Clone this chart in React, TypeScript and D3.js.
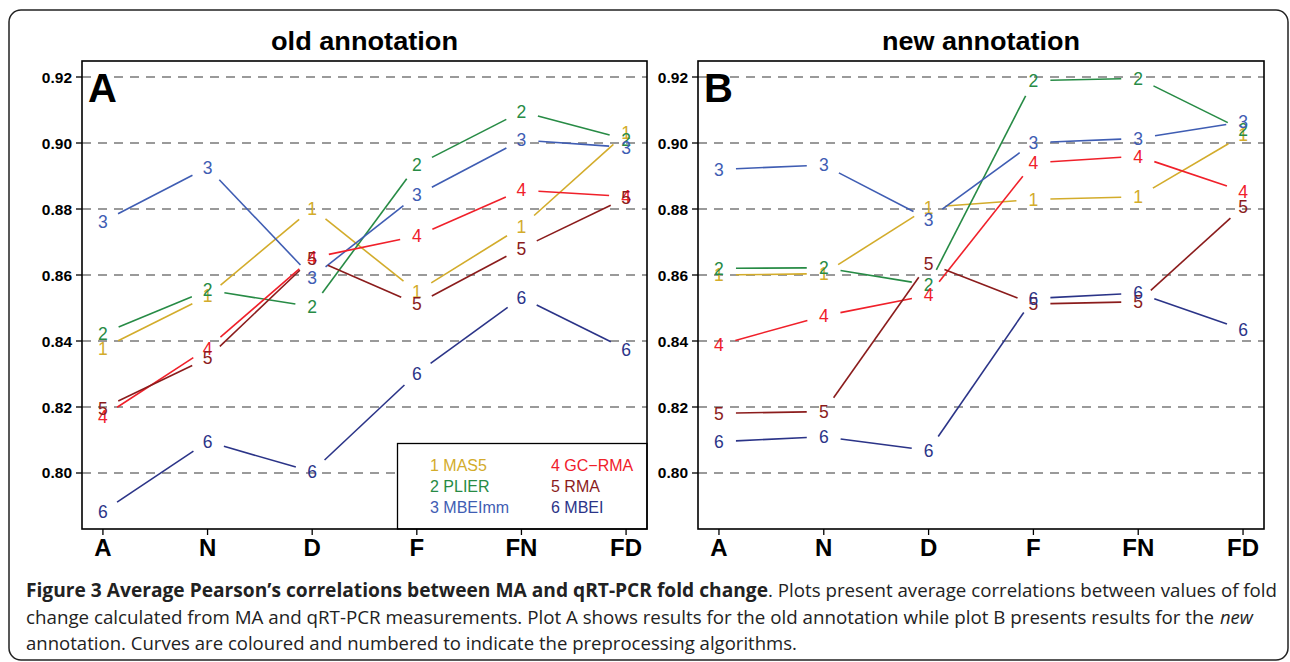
import { scaleLinear, select } from 'd3'
import { useEffect, useRef } from 'react'

const categories = ['A', 'N', 'D', 'F', 'FN', 'FD']
const methods = ['MAS5', 'PLIER', 'MBEImm', 'GC−RMA', 'RMA', 'MBEI']
const colors = ['#d3ac2b', '#278b45', '#3f5db3', '#f0202a', '#8b1c1c', '#2b3488']
const yTicks = [0.8, 0.82, 0.84, 0.86, 0.88, 0.9, 0.92]

// old annotation (panel A)
const oldMas5 = [0.8378, 0.8536, 0.8802, 0.8549, 0.8746, 0.903]
const oldPlier = [0.8423, 0.8554, 0.8504, 0.8933, 0.9095, 0.9011]
const oldMbeimm = [0.8762, 0.8926, 0.8593, 0.8842, 0.9009, 0.8987]
const oldGcrma = [0.8171, 0.8378, 0.8652, 0.8718, 0.8857, 0.8838]
const oldRma = [0.8196, 0.8348, 0.865, 0.8512, 0.8681, 0.8834]
const oldMbei = [0.7883, 0.8095, 0.8004, 0.8302, 0.8532, 0.8375]

// new annotation (panel B)
const newMas5 = [0.86, 0.8604, 0.8805, 0.8829, 0.8837, 0.9024]
const newPlier = [0.862, 0.8622, 0.857, 0.9189, 0.9196, 0.9039]
const newMbeimm = [0.892, 0.8933, 0.8769, 0.9001, 0.9014, 0.9064]
const newGcrma = [0.8388, 0.8476, 0.8539, 0.894, 0.896, 0.8853]
const newRma = [0.8181, 0.8186, 0.8635, 0.8512, 0.8519, 0.8807]
const newMbei = [0.8095, 0.811, 0.8068, 0.8529, 0.8545, 0.8435]

const FONT = "'Liberation Sans', Arial, sans-serif"

export default function App() {
  const svgRef = useRef<SVGSVGElement>(null)

  useEffect(() => {
    const svg = select(svgRef.current)
    svg.selectAll('*').remove()

    svg.append('rect').attr('width', 1290).attr('height', 662).attr('fill', '#fff')

    // outer figure frame
    svg
      .append('rect')
      .attr('x', 9)
      .attr('y', 10)
      .attr('width', 1279)
      .attr('height', 650)
      .attr('rx', 12)
      .attr('fill', 'none')
      .attr('stroke', '#222')
      .attr('stroke-width', 1.5)

    const top = 61
    const bottom = 529
    const y = scaleLinear().domain([0.78303, 0.92485]).range([bottom, top])

    function drawPanel(left: number, right: number, title: string, titleW: number, letter: string, series: number[][], legend: boolean) {
      const x = scaleLinear().domain([0.8, 6.2]).range([left, right])
      const g = svg.append('g')

      // dashed grid
      g.selectAll('line.grid')
        .data(yTicks)
        .enter()
        .append('line')
        .attr('x1', left)
        .attr('x2', right)
        .attr('y1', (d) => y(d))
        .attr('y2', (d) => y(d))
        .attr('stroke', '#7a7a7a')
        .attr('stroke-width', 1.4)
        .attr('stroke-dasharray', '9,7')

      // title
      g.append('text')
        .attr('x', (left + right) / 2 - titleW / 2)
        .attr('y', 50)
        .attr('textLength', titleW)
        .attr('lengthAdjust', 'spacingAndGlyphs')
        .attr('font-family', FONT)
        .attr('font-weight', 'bold')
        .attr('font-size', 25)
        .text(title)

      // panel letter
      g.append('text')
        .attr('x', left + 6)
        .attr('y', 101.5)
        .attr('font-family', FONT)
        .attr('font-weight', 'bold')
        .attr('font-size', 40)
        .text(letter)

      // y axis
      g.selectAll('line.ytick')
        .data(yTicks)
        .enter()
        .append('line')
        .attr('x1', left - 6)
        .attr('x2', left)
        .attr('y1', (d) => y(d))
        .attr('y2', (d) => y(d))
        .attr('stroke', '#000')
        .attr('stroke-width', 1.3)
      g.selectAll('text.ylab')
        .data(yTicks)
        .enter()
        .append('text')
        .attr('x', left - 10)
        .attr('y', (d) => y(d) + 5.5)
        .attr('text-anchor', 'end')
        .attr('font-family', FONT)
        .attr('font-weight', 'bold')
        .attr('font-size', 15.5)
        .text((d) => d.toFixed(2))

      // x axis
      g.selectAll('line.xtick')
        .data(categories)
        .enter()
        .append('line')
        .attr('x1', (_d, i) => x(i + 1))
        .attr('x2', (_d, i) => x(i + 1))
        .attr('y1', bottom)
        .attr('y2', bottom + 6)
        .attr('stroke', '#000')
        .attr('stroke-width', 1.3)
      g.selectAll('text.xlab')
        .data(categories)
        .enter()
        .append('text')
        .attr('x', (_d, i) => x(i + 1))
        .attr('y', 556)
        .attr('text-anchor', 'middle')
        .attr('font-family', FONT)
        .attr('font-weight', 'bold')
        .attr('font-size', 24)
        .text((d) => d)

      // lines with gaps around the numbers (type = "b")
      const gap = 17
      series.forEach((vals, s) => {
        for (let i = 0; i < vals.length - 1; i++) {
          const x0 = x(i + 1)
          const y0 = y(vals[i])
          const x1 = x(i + 2)
          const y1 = y(vals[i + 1])
          const len = Math.hypot(x1 - x0, y1 - y0)
          if (len <= 2 * gap) continue
          const ux = (x1 - x0) / len
          const uy = (y1 - y0) / len
          g.append('line')
            .attr('x1', x0 + ux * gap)
            .attr('y1', y0 + uy * gap)
            .attr('x2', x1 - ux * gap)
            .attr('y2', y1 - uy * gap)
            .attr('stroke', colors[s])
            .attr('stroke-width', 1.6)
        }
        g.selectAll('text.pt' + s)
          .data(vals)
          .enter()
          .append('text')
          .attr('x', (_d, i) => x(i + 1))
          .attr('y', (d) => y(d) + 6.3)
          .attr('text-anchor', 'middle')
          .attr('font-family', FONT)
          .attr('font-size', 17.5)
          .attr('fill', colors[s])
          .text(String(s + 1))
      })

      if (legend) {
        const lx = 397.5
        const ly = 443.5
        g.append('rect')
          .attr('x', lx)
          .attr('y', ly)
          .attr('width', right - lx)
          .attr('height', bottom - ly)
          .attr('fill', '#fff')
          .attr('stroke', '#000')
          .attr('stroke-width', 1.3)
        g.selectAll('text.leg')
          .data(methods)
          .enter()
          .append('text')
          .attr('x', (_d, i) => (i < 3 ? 430 : 551))
          .attr('y', (_d, i) => 470.5 + (i % 3) * 21.4)
          .attr('font-family', FONT)
          .attr('font-size', 16)
          .attr('fill', (_d, i) => colors[i])
          .text((d, i) => `${i + 1} ${d}`)
      }

      // plot box
      g.append('rect')
        .attr('x', left)
        .attr('y', top)
        .attr('width', right - left)
        .attr('height', bottom - top)
        .attr('fill', 'none')
        .attr('stroke', '#000')
        .attr('stroke-width', 1.6)
    }

    drawPanel(82, 647, 'old annotation', 187, 'A', [oldMas5, oldPlier, oldMbeimm, oldGcrma, oldRma, oldMbei], true)
    drawPanel(698, 1264, 'new annotation', 198, 'B', [newMas5, newPlier, newMbeimm, newGcrma, newRma, newMbei], false)

    // caption
    const cap = svg.append('g').attr('font-family', "'Open Sans', sans-serif").attr('font-size', 19).attr('fill', '#222')
    const seg = (t: string, x0: number, x1: number, yy: number, weight = 'normal', style = 'normal') =>
      cap
        .append('text')
        .attr('x', x0)
        .attr('y', yy)
        .attr('textLength', x1 - x0)
        .attr('lengthAdjust', 'spacingAndGlyphs')
        .attr('font-weight', weight)
        .attr('font-style', style)
        .text(t)
    seg('Figure 3 Average Pearson’s correlations between MA and qRT-PCR fold change', 26, 768, 597, 'bold')
    seg('. Plots present average correlations between values of fold', 768, 1277, 597)
    seg('change calculated from MA and qRT-PCR measurements. Plot A shows results for the old annotation while plot B presents results for the', 26, 1214, 624)
    seg('new', 1220, 1253, 624, 'normal', 'italic')
    seg('annotation. Curves are coloured and numbered to indicate the preprocessing algorithms.', 26, 797, 650)
  }, [])

  return <svg ref={svgRef} width={1290} height={662} style={{ position: 'absolute', left: 0, top: 0 }} />
}
